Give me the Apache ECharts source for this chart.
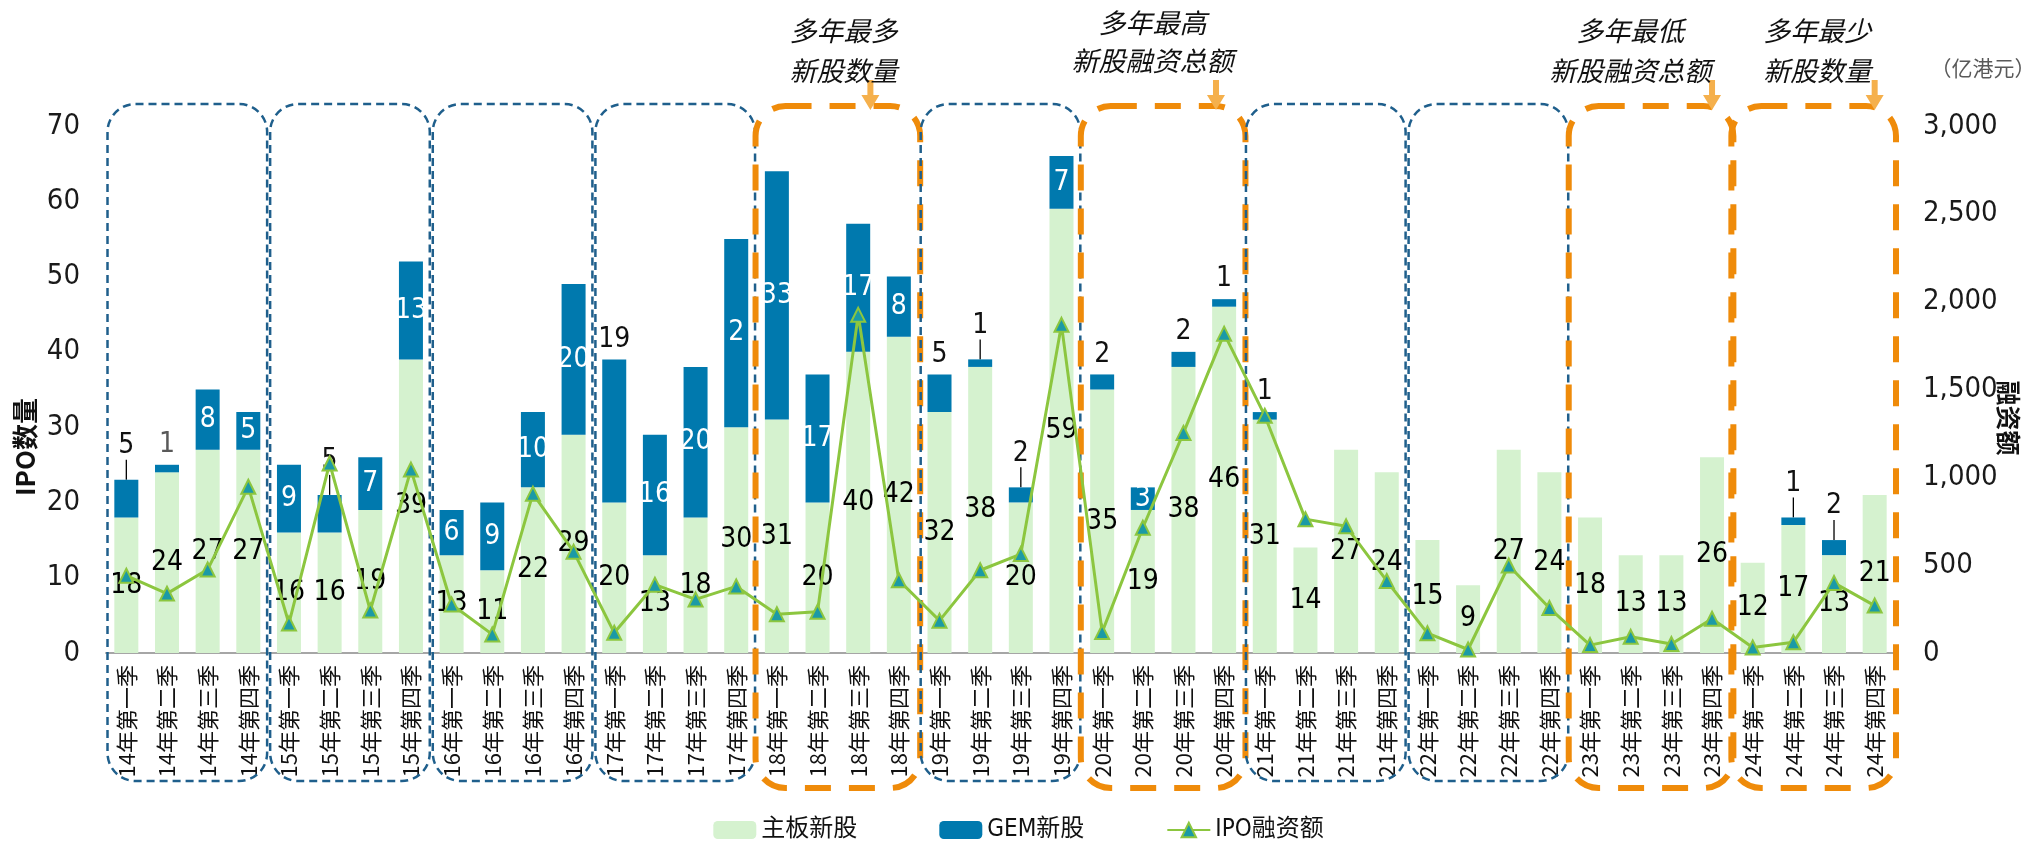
<!DOCTYPE html>
<html><head><meta charset="utf-8">
<script src="https://cdn.jsdelivr.net/npm/echarts@6/dist/echarts.min.js"></script>
<style>html,body{margin:0;padding:0;background:#fff}#c{width:2037px;height:842px}</style>
</head><body><div id="c"></div>
<script>
// ---------------- data ----------------
const categories = [
  '14年第一季','14年第二季','14年第三季','14年第四季',
  '15年第一季','15年第二季','15年第三季','15年第四季',
  '16年第一季','16年第二季','16年第三季','16年第四季',
  '17年第一季','17年第二季','17年第三季','17年第四季',
  '18年第一季','18年第二季','18年第三季','18年第四季',
  '19年第一季','19年第二季','19年第三季','19年第四季',
  '20年第一季','20年第二季','20年第三季','20年第四季',
  '21年第一季','21年第二季','21年第三季','21年第四季',
  '22年第一季','22年第二季','22年第三季','22年第四季',
  '23年第一季','23年第二季','23年第三季','23年第四季',
  '24年第一季','24年第二季','24年第三季','24年第四季'
];
const mainBoard = [18,24,27,27, 16,16,19,39, 13,11,22,29, 20,13,18,30, 31,20,40,42, 32,38,20,59, 35,19,38,46, 31,14,27,24, 15,9,27,24, 18,13,13,26, 12,17,13,21];
const gem       = [5,1,8,5, 9,5,7,13, 6,9,10,20, 19,16,20,25, 33,17,17,8, 5,1,2,7, 2,3,2,1, 1,0,0,0, 0,0,0,0, 0,0,0,0, 0,1,2,0];
const ipoAmount = [440,338,475,946, 168,1079,242,1044, 276,106,907,577, 115,389,305,379, 221,235,1925,414, 184,471,563,1868, 119,713,1253,1818, 1351,762,721,410, 113,20,498,256, 45,92,51,195, 31,61,399,270];
const countTicks  = [0,10,20,30,40,50,60,70];
const amountTicks = [0,500,1000,1500,2000,2500,3000];
const seriesNames = ['主板新股','GEM新股','IPO融资额'];
const yearGroups  = ['14','15','16','17','18','19','20','21','22','23','24'];
const highlightedYears = ['18','20','23','24'];
const gemShownText = {15: '2'};            // label text as printed in the source
const annotations = [
  {lines: ['多年最多','新股数量'], text: 17.64, arrow: 18.3, y: [31, 71]},
  {lines: ['多年最高','新股融资总额'], text: 25.24, arrow: 26.8, y: [23, 61]},
  {lines: ['多年最低','新股融资总额'], text: 36.99, arrow: 39.0, y: [31, 71]},
  {lines: ['多年最少','新股数量'], text: 41.59, arrow: 43.0, y: [31, 71]}
];
// label style groups (not data)
const gemOutside = [0,1,5,12,20,21,22,24,26,27,28,41,42];
const gemLeader  = [0,5,21,22,41,42];

// ---------------- styles ----------------
const NUM = "'Liberation Sans Narrow','DejaVu Sans Condensed','Noto Sans CJK SC',sans-serif";
const CJK = "'Noto Sans CJK SC',sans-serif";
const C_MAIN = '#d5f2cf', C_GEM = '#0079ae', C_LINE = '#8cc63f', C_MARK = '#1b9aa6';

const gemData = gem.map((v, i) => {
  const out = gemOutside.includes(i);
  const item = {
    value: v,
    label: out ? {position: 'top', distance: 6, color: i === 1 ? '#595959' : '#111'}
               : {position: 'inside', color: '#fff'}
  };
  if (gemLeader.includes(i)) item.labelLine = {show: true};
  return item;
});

const option = {
  animation: false,
  backgroundColor: '#fff',
  grid: {left: 106, right: 142, top: 126, bottom: 189},
  legend: {
    data: seriesNames, top: 813, left: 'center',
    itemWidth: 43, itemHeight: 18, itemGap: 82,
    textStyle: {fontSize: 24, fontFamily: NUM, color: '#111'}
  },
  xAxis: {
    type: 'category', data: categories,
    axisTick: {show: false},
    axisLine: {lineStyle: {color: '#a6a6a6', width: 2}},
    axisLabel: {rotate: 90, interval: 0, margin: 12, fontSize: 22, color: '#111', fontFamily: CJK}
  },
  yAxis: [
    {
      type: 'value', min: countTicks[0], max: countTicks[countTicks.length - 1],
      interval: countTicks[1] - countTicks[0],
      splitLine: {show: false}, axisLine: {show: false}, axisTick: {show: false},
      axisLabel: {fontSize: 29, color: '#1a1a1a', fontFamily: NUM, margin: 26}
    },
    {
      type: 'value', position: 'right', min: amountTicks[0], max: amountTicks[amountTicks.length - 1],
      interval: amountTicks[1] - amountTicks[0],
      splitLine: {show: false}, axisLine: {show: false}, axisTick: {show: false},
      axisLabel: {fontSize: 29, color: '#1a1a1a', fontFamily: NUM, margin: 28}
    }
  ],
  series: [
    {
      name: seriesNames[0], type: 'bar', stack: 'n', barWidth: 24, data: mainBoard,
      itemStyle: {color: C_MAIN},
      label: {show: true, position: 'inside', color: '#000', fontSize: 28, fontFamily: NUM}
    },
    {
      name: seriesNames[1], type: 'bar', stack: 'n', barWidth: 24, data: gemData,
      itemStyle: {color: C_GEM},
      label: {
        show: true, fontSize: 28, fontFamily: NUM,
        formatter: p => p.value ? (gemShownText[p.dataIndex] || String(p.value)) : ''
      },
      labelLine: {show: false, lineStyle: {color: '#000', width: 1.3}},
      labelLayout: p => gemLeader.includes(p.dataIndex) ? {dy: -14} : {}
    },
    {
      name: seriesNames[2], type: 'line', yAxisIndex: 1, data: ipoAmount, z: 5,
      symbol: 'triangle', symbolSize: 14,
      lineStyle: {color: C_LINE, width: 3},
      itemStyle: {color: C_MARK, borderColor: C_LINE, borderWidth: 2}
    }
  ]
};

const chart = echarts.init(document.getElementById('c'));
chart.setOption(option);

// ---------------- decorations ----------------
const c0 = chart.convertToPixel({xAxisIndex: 0}, 0);
const step = chart.convertToPixel({xAxisIndex: 0}, 1) - c0;
const catX = f => c0 + f * step;
const yTop = chart.convertToPixel({yAxisIndex: 0}, countTicks[countTicks.length - 1]);
const yBase = chart.convertToPixel({yAxisIndex: 0}, 0);
const boxTop = yTop - 22;
const blueBottom = yBase + 128, orangeBottom = yBase + 135;

const graphics = [];
yearGroups.forEach((y, g) => {
  const left = catX(g * 4 - 0.5), right = catX(g * 4 + 3.5);
  if (highlightedYears.includes(y)) {
    graphics.push({type: 'rect', z: 1, silent: true,
      shape: {x: left - 1, y: boxTop + 2, width: right - left + 2, height: orangeBottom - boxTop - 2, r: 30},
      style: {fill: 'none', stroke: '#ef8b0a', lineWidth: 6, lineDash: [26, 18]}});
  } else {
    graphics.push({type: 'rect', z: 1, silent: true,
      shape: {x: left + 1.5, y: boxTop, width: right - left - 3, height: blueBottom - boxTop, r: 28},
      style: {fill: 'none', stroke: '#1f5f8c', lineWidth: 2.5, lineDash: [8, 5]}});
  }
});
annotations.forEach(a => {
  const ax = catX(a.arrow), tx = catX(a.text);
  const tip = boxTop + 6;
  graphics.push({type: 'polygon', z: 6, silent: true,
    shape: {points: [[ax - 3, tip - 30], [ax + 3, tip - 30], [ax + 3, tip - 15], [ax + 9, tip - 15],
                     [ax, tip], [ax - 9, tip - 15], [ax - 3, tip - 15]]},
    style: {fill: '#f5b04c'}});
  a.lines.forEach((t, k) => graphics.push({type: 'text', z: 6, silent: true, x: tx, y: a.y[k],
    style: {text: t, font: 'italic 27px "Noto Sans CJK SC"', fill: '#111', textAlign: 'center', textVerticalAlign: 'middle'}}));
});
graphics.push({type: 'text', silent: true, x: 25, y: 447, rotation: Math.PI / 2,
  style: {text: 'IPO数量', font: 'bold 26px "Noto Sans CJK SC"', fill: '#111', textAlign: 'center', textVerticalAlign: 'middle'}});
graphics.push({type: 'text', silent: true, x: 2008, y: 418, rotation: -Math.PI / 2,
  style: {text: '融资额', font: 'bold 25px "Noto Sans CJK SC"', fill: '#111', textAlign: 'center', textVerticalAlign: 'middle'}});
graphics.push({type: 'text', silent: true, x: 1983, y: 68,
  style: {text: '（亿港元）', font: '21px "Noto Sans CJK SC"', fill: '#595959', textAlign: 'center', textVerticalAlign: 'middle'}});
chart.setOption({graphic: graphics});
</script>
</body></html>
